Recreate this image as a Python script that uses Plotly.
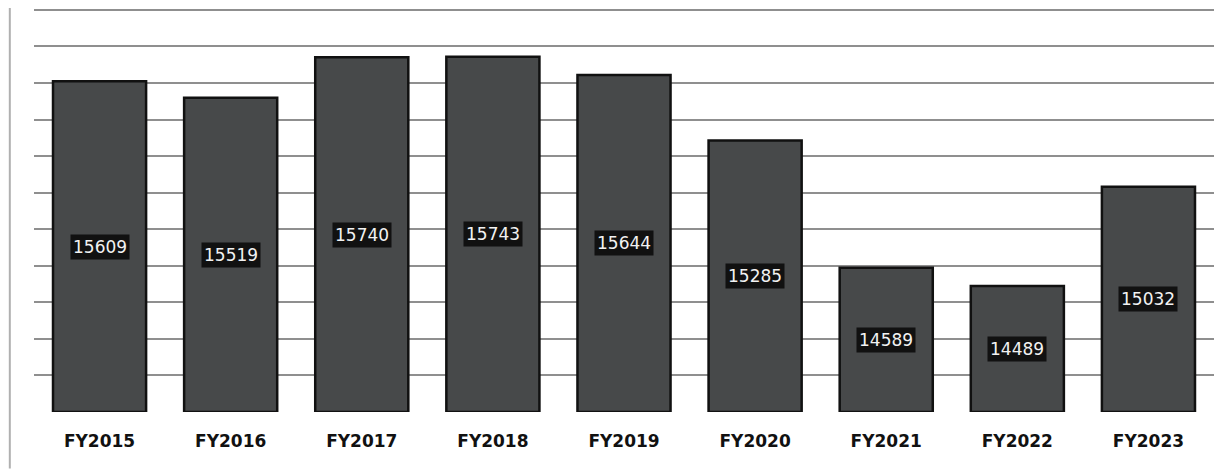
import plotly.graph_objects as go

categories = ["FY2015", "FY2016", "FY2017", "FY2018", "FY2019", "FY2020", "FY2021", "FY2022", "FY2023"]
values = [15609, 15519, 15740, 15743, 15644, 15285, 14589, 14489, 15032]
y_min = 13800
y_max = 16000

fig = go.Figure()
fig.add_trace(go.Bar(
    x=categories,
    y=[v - y_min for v in values],
    base=y_min,
    marker=dict(color="#47494a", line=dict(color="#111111", width=2.5)),
    hoverinfo="skip",
))

for c, v in zip(categories, values):
    fig.add_annotation(
        x=c, y=(y_min + v) / 2, text=str(v), showarrow=False,
        font=dict(family="DejaVu Sans", size=17, color="#f2f2f2"),
        bgcolor="#111111", borderpad=2,
    )

fig.update_layout(
    width=1219, height=462,
    margin=dict(l=26, r=13, t=0, b=58),
    paper_bgcolor="white", plot_bgcolor="white",
    bargap=0.29,
    showlegend=False,
    xaxis=dict(
        tickfont=dict(family="DejaVu Sans", size=17, color="#111111", weight=800),
        showgrid=False, showline=False, ticks="", ticklabelstandoff=17,
    ),
    yaxis=dict(
        range=[y_min, y_max + 10], dtick=200, tick0=y_min,
        showticklabels=False, showgrid=True,
        gridcolor="#8f8f8f", gridwidth=2, zeroline=False, showline=False,
    ),
    shapes=[dict(type="line", xref="paper", yref="paper", x0=-0.0205, x1=-0.0205, y0=-0.14, y1=1.0,
                 line=dict(color="#b0b0b0", width=2))],
)

fig.write_html("out.html")
